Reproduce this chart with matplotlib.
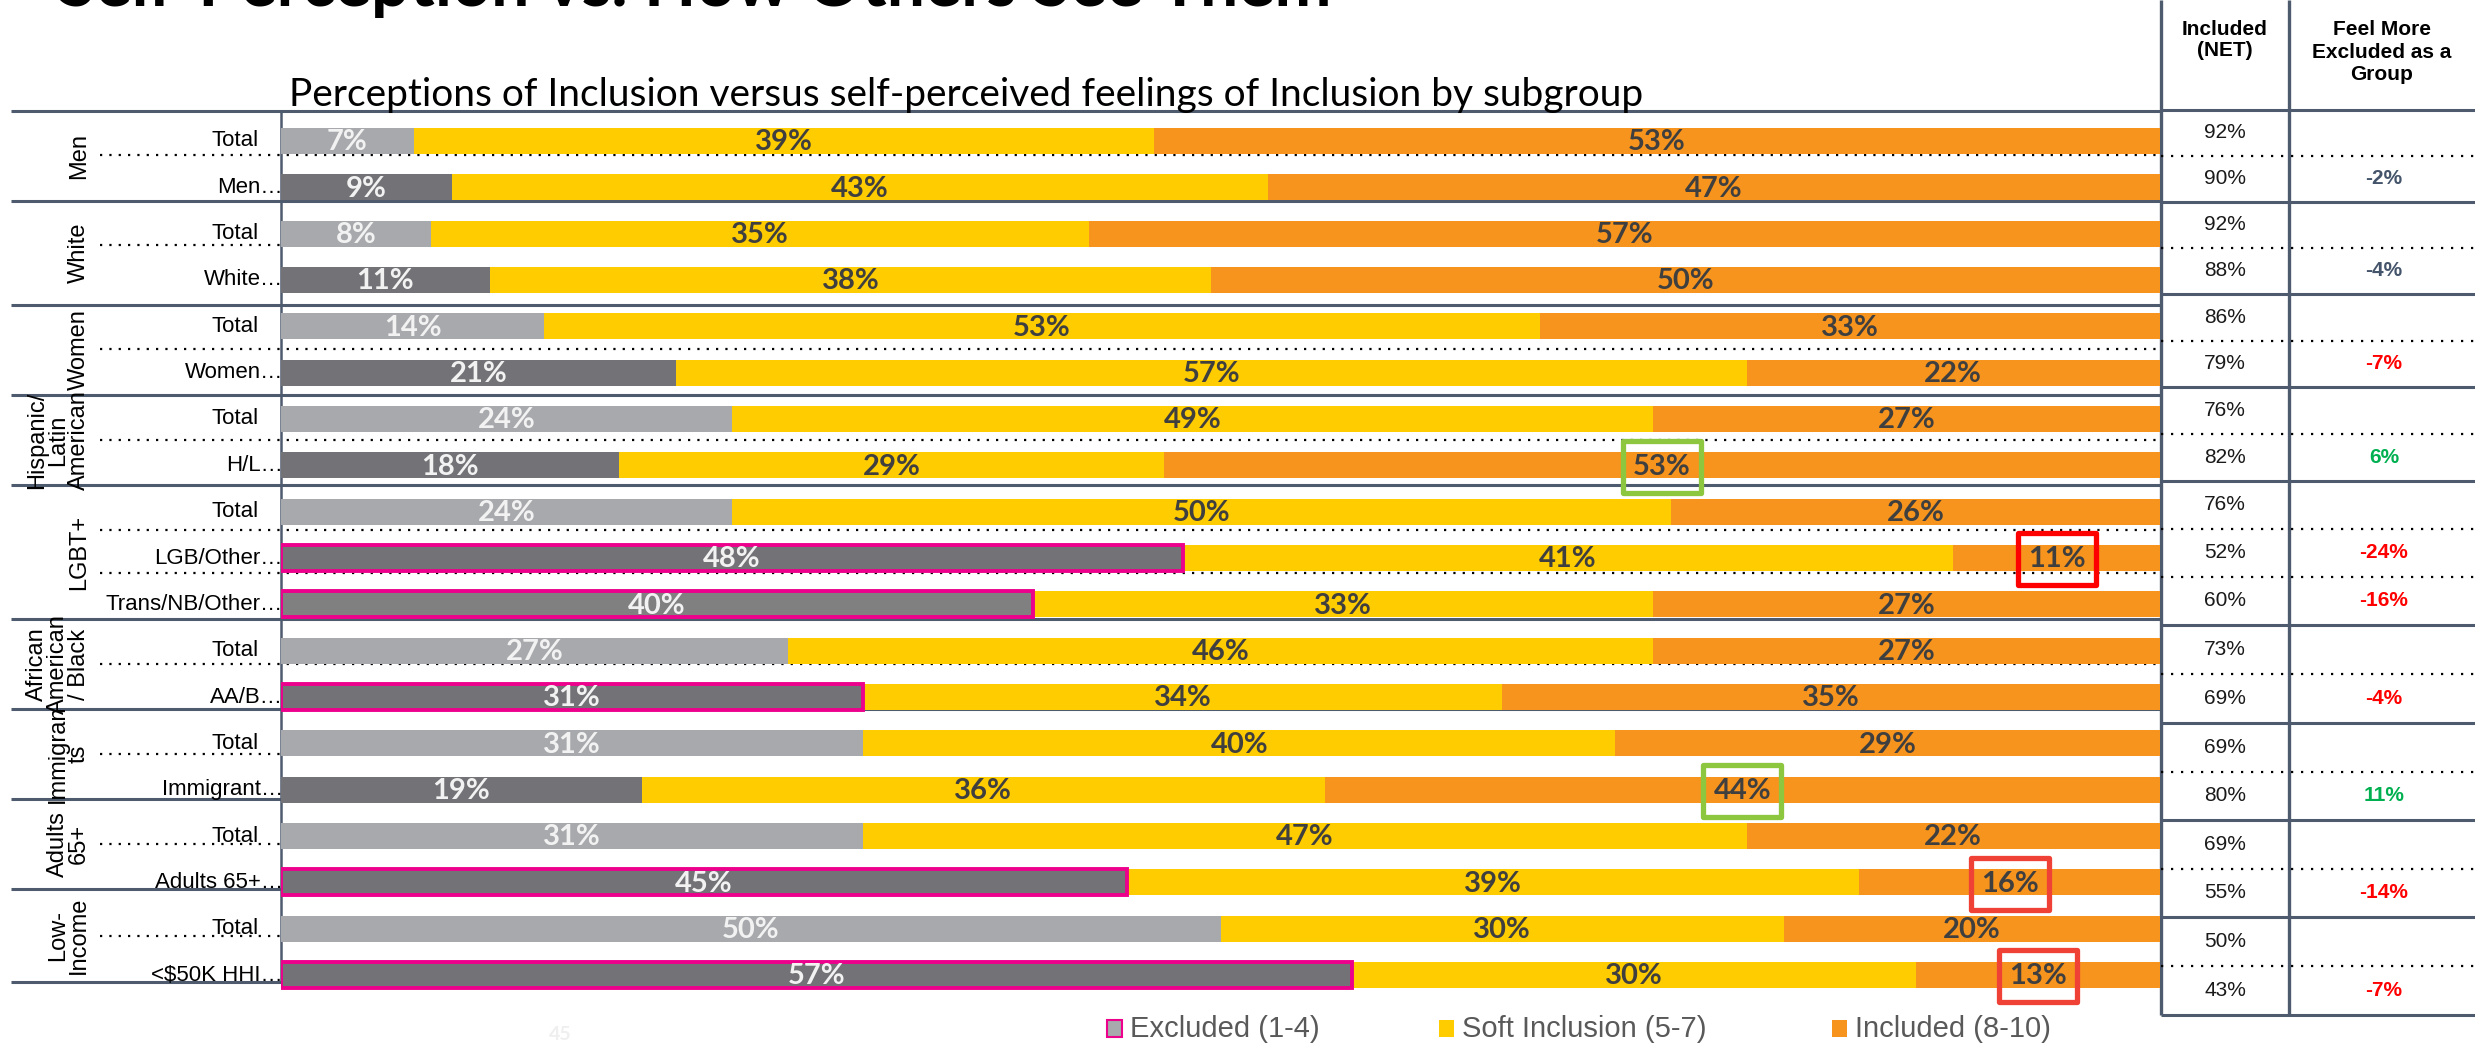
import matplotlib
matplotlib.use('Agg')
import matplotlib.pyplot as plt
from matplotlib.patches import Rectangle
from matplotlib.transforms import blended_transform_factory

# ---- data ----
groups = ['Men', 'White', 'Women', 'Hispanic/\nLatin\nAmerican', 'LGBT+',
          'African\nAmerican\n/ Black', 'Immigran\nts', 'Adults\n65+', 'Low-\nIncome']
group_sizes = [2, 2, 2, 2, 3, 2, 2, 2, 2]
rows = ['Total', 'Men…', 'Total', 'White…', 'Total', 'Women…', 'Total', 'H/L…',
        'Total', 'LGB/Other…', 'Trans/NB/Other…', 'Total', 'AA/B…', 'Total', 'Immigrant…',
        'Total', 'Adults 65+…', 'Total', '<$50K HHI…']
excluded = [7, 9, 8, 11, 14, 21, 24, 18, 24, 48, 40, 27, 31, 31, 19, 31, 45, 50, 57]
soft = [39, 43, 35, 38, 53, 57, 49, 29, 50, 41, 33, 46, 34, 40, 36, 47, 39, 30, 30]
included = [53, 47, 57, 50, 33, 22, 27, 53, 26, 11, 27, 27, 35, 29, 44, 22, 16, 20, 13]
net = [92, 90, 92, 88, 86, 79, 76, 82, 76, 52, 60, 73, 69, 69, 80, 69, 55, 50, 43]
diff = [None, -2, None, -4, None, -7, None, 6, None, -24, -16, None, -4, None, 11, None, -14, None, -7]
legend_labels = ['Excluded (1-4)', 'Soft Inclusion (5-7)', 'Included (8-10)']

pink_rows = [9, 10, 12, 16, 18]
green_boxes = [7, 14]
red_boxes = [9, 16, 18]
muted_groups = ['Men', 'White']

# ---- style ----
C_LIGHT = '#A7A9AC'
C_DARK = '#737277'
C_TRANS = '#808080'
C_SOFT = '#FFCC00'
C_INCL = '#F7941D'
C_PINK = '#EC008C'
C_LINE = '#4E5B6F'
C_LBL = '#3F3F3F'
C_RED = '#FF0000'
C_GREEN = '#00B050'
C_SLATE = '#44546A'

W, H = 2475, 1045
fig = plt.figure(figsize=(W / 100, H / 100), dpi=100)

# overlay axes in pixel coordinates for the table layout
bg = fig.add_axes([0, 0, 1, 1])
bg.set_xlim(0, W)
bg.set_ylim(H, 0)
bg.axis('off')

# table geometry (pixels)
left_bounds = [111, 201, 305, 395, 485, 619, 709, 799, 889, 982]
left_dots = [155, 245, 349, 440, 530, 573, 664, 754, 844, 936]
right_bounds = [110, 202, 294, 387, 481, 625, 723, 820, 917, 1015]
X_AXIS, X_T1, X_T2 = 281, 2161, 2289

bg.hlines(left_bounds, 11, X_T1, color=C_LINE, lw=2.2, zorder=1)
bg.hlines(left_dots, 100, X_T1, color='black', lw=1.6, linestyle=(0, (1, 3.2)), zorder=1)
bg.hlines(right_bounds, X_T1, W, color=C_LINE, lw=2.2, zorder=1)
bg.vlines(X_AXIS, left_bounds[0], left_bounds[-1], color=C_LINE, lw=1.8, zorder=1)
bg.vlines([X_T1, X_T2], 0, right_bounds[-1], color=C_LINE, lw=2.4, zorder=1)

# right table rows
right_centers = []
right_dots = []
for g, n in enumerate(group_sizes):
    top, bot = right_bounds[g], right_bounds[g + 1]
    h = (bot - top) / n
    for k in range(n):
        right_centers.append(top + h * (k + 0.5))
        if k > 0:
            right_dots.append(top + h * k)
bg.hlines(right_dots, X_T1, W, color='black', lw=1.6, linestyle=(0, (1, 3.5)), zorder=1)

bg.text((X_T1 + X_T2) / 2, 40, 'Included\n(NET)', ha='center', va='center', fontsize=15,
        fontweight='bold', family='Liberation Sans', linespacing=1.1)
bg.text((X_T2 + W) / 2, 52, 'Feel More\nExcluded as a\nGroup', ha='center', va='center',
        fontsize=15, fontweight='bold', family='Liberation Sans', linespacing=1.25)

row_group = []
for g, n in enumerate(group_sizes):
    row_group += [groups[g]] * n

for i, yc in enumerate(right_centers):
    bg.text((X_T1 + X_T2) / 2, yc, f'{net[i]}%', ha='center', va='center', fontsize=15,
            family='Liberation Sans', color='#1A1A1A')
    if diff[i] is not None:
        if diff[i] > 0:
            col = C_GREEN
        elif row_group[i] in muted_groups:
            col = C_SLATE
        else:
            col = C_RED
        bg.text((X_T2 + W) / 2 + 2, yc, f'{diff[i]}%', ha='center', va='center', fontsize=15,
                fontweight='bold', family='Liberation Sans', color=col)

# group labels
for g in range(len(groups)):
    yc = (left_bounds[g] + left_bounds[g + 1]) / 2
    bg.text(90, yc, groups[g], rotation=90, ha='right', va='center', multialignment='center',
            fontsize=17, family='Liberation Sans', linespacing=0.95)

# titles
bg.text(58, 6, 'Self-Perception vs. How Others See Them', ha='left', va='baseline',
        fontsize=49, fontweight='bold', family='Lato')
bg.text(289, 106, 'Perceptions of Inclusion versus self-perceived feelings of Inclusion by subgroup',
        ha='left', va='baseline', fontsize=28, family='Lato')

# legend
leg_colors = [C_LIGHT, C_SOFT, C_INCL]
leg_x = [1107, 1439, 1832]
for k in range(3):
    bg.add_patch(Rectangle((leg_x[k], 1020), 15, 17, fc=leg_colors[k],
                           ec=C_PINK if k == 0 else 'none', lw=1.5))
    bg.text(leg_x[k] + 23, 1029, legend_labels[k], ha='left', va='center', fontsize=21,
            family='Liberation Sans', color='#595959')
bg.text(560, 1034, '45', ha='center', va='center', fontsize=14, fontweight='bold',
        color='#EFEFEF', family='Lato')

# ---- bar chart ----
top_px, bot_px = 117.8, 998.2
ax = fig.add_axes([X_AXIS / W, (H - bot_px) / H, (2160 - X_AXIS) / W, (bot_px - top_px) / H])
ax.patch.set_alpha(0)
ax.set_xlim(0, 100)
ax.set_ylim(len(rows) - 0.5, -0.5)
ax.axis('off')

bar_h = 0.56
for i in range(len(rows)):
    tot = excluded[i] + soft[i] + included[i]
    segs = [excluded[i] * 100 / tot, soft[i] * 100 / tot, included[i] * 100 / tot]
    vals = [excluded[i], soft[i], included[i]]
    if rows[i] == 'Total':
        ec = C_LIGHT
    elif rows[i].startswith('Trans'):
        ec = C_TRANS
    else:
        ec = C_DARK
    cols = [ec, C_SOFT, C_INCL]
    left = 0
    for k in range(3):
        if k == 0 and i in pink_rows:
            ax.barh(i, segs[k], left=left, height=bar_h, color=cols[k], edgecolor=C_PINK,
                    linewidth=2.8, zorder=3)
        else:
            ax.barh(i, segs[k], left=left, height=bar_h, color=cols[k], zorder=2)
        tc = '#F2F2F2' if k == 0 else C_LBL
        ax.text(left + segs[k] / 2, i + 0.03, f'{vals[k]}%', ha='center', va='center',
                fontsize=21, fontweight='bold', family='Lato', color=tc, zorder=4)
        if k == 2 and (i in green_boxes or i in red_boxes):
            bc = '#8DC63F' if i in green_boxes else ('#FF0000' if i == 9 else '#EF4136')
            bw, bh = 4.15, 1.12
            ax.add_patch(Rectangle((left + segs[k] / 2 - bw / 2, i - bh / 2 + 0.03), bw, bh,
                                   fill=False, ec=bc, lw=3.8, joinstyle='round',
                                   clip_on=False, zorder=5))
        left += segs[k]

# row labels
tr = blended_transform_factory(bg.transData, ax.transData)
for i, lab in enumerate(rows):
    x = 283 if lab.endswith('…') else 259
    ax.text(x, i, lab, transform=tr, ha='right', va='center', fontsize=16,
            family='Liberation Sans', color='black', zorder=4)

fig.savefig('out.png', dpi=100)
